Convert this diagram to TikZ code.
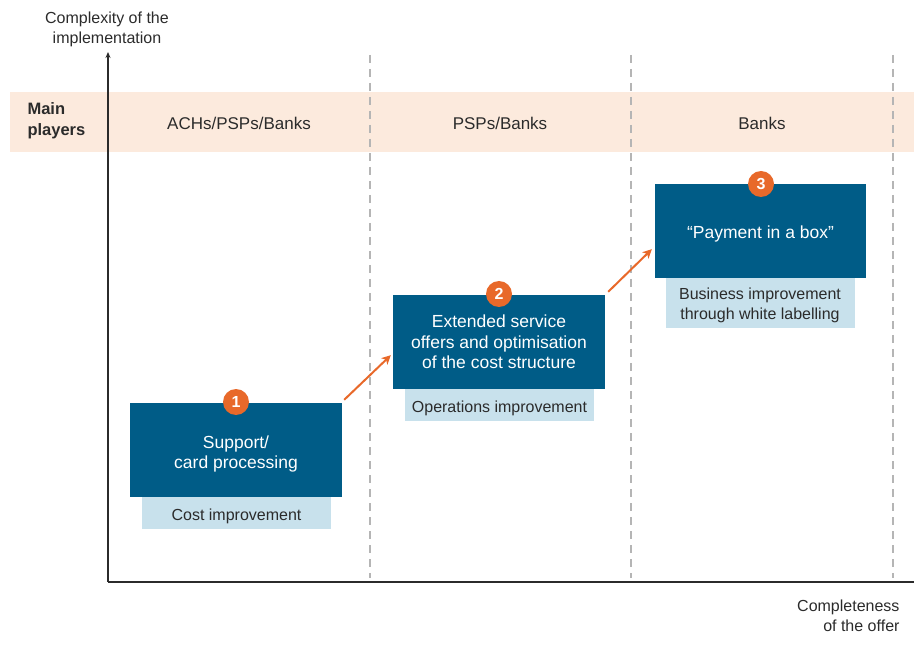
\documentclass[tikz,border=0pt]{standalone}
\usepackage{fontspec}
\setmainfont{Liberation Sans}
\usetikzlibrary{arrows.meta}
\definecolor{dblue}{HTML}{005C87}
\definecolor{lblue}{HTML}{C8E1EC}
\definecolor{peach}{HTML}{FCEADD}
\definecolor{orng}{HTML}{E8692A}
\definecolor{dgray}{HTML}{B5B5B5}
\definecolor{txt}{HTML}{2B2B2B}
\begin{document}
\begin{tikzpicture}[x=1pt,y=-1pt,
  mainbox/.style={fill=dblue,draw=none,minimum width=212pt,minimum height=94pt,inner sep=0pt},
  maintext/.style={text=white,align=center,font=\fontsize{17.5}{20.5}\selectfont,inner sep=0pt},
  subbox/.style={fill=lblue,draw=none,minimum width=189pt,inner sep=0pt},
  subtext/.style={text=txt,align=center,font=\fontsize{16}{20}\selectfont,inner sep=0pt},
  numc/.style={circle,fill=orng,text=white,minimum size=26pt,inner sep=0pt,font=\fontsize{16}{16}\selectfont\bfseries},
  head/.style={text=txt,font=\fontsize{17}{20}\selectfont,anchor=center},
  axlab/.style={text=txt,font=\fontsize{16}{20}\selectfont,align=center},
  step arrow/.style={draw=orng,line width=2pt,-{Stealth[length=9pt,width=9pt,inset=2.5pt]}},
  divider/.style={draw=dgray,line width=1.2pt,dash pattern=on 8pt off 6pt}
]
\useasboundingbox (0,0) rectangle (914,647);
% header band
\fill[peach] (10,92) rectangle (914,152);
\node[text=txt,font=\fontsize{16.5}{21}\selectfont\bfseries,align=left,anchor=west] (mp) at (24,121) {Main\\players};
\node[head] (h1) at (239,123) {ACHs/PSPs/Banks};
\node[head] (h2) at (500,123) {PSPs/Banks};
\node[head] (h3) at (762,123) {Banks};
% dividers
\draw[divider] (370,55) -- (370,578);
\draw[divider] (631,55) -- (631,578);
\draw[divider] (893,55) -- (893,578);
% axes
\coordinate (o) at (108,582);
\coordinate (ytop) at (108,52);
\coordinate (xend) at (914,582);
\draw[txt,line width=1.3pt,-{Stealth[length=6pt,width=5pt]}] (o) -- (ytop);
\draw[txt,line width=1.3pt] (o) -- (xend);
\node[axlab] (ylab) at (107,29.5) {Complexity of the\\implementation};
\node[axlab,align=right,anchor=east] (xlab) at (903,616) {Completeness\\of the offer};
% box 1
\node[mainbox] (b1) at (236,450) {};
\node[maintext] (t1) at (236,454) {Support/\\card processing};
\node[subbox,minimum height=32pt,anchor=north] (s1) at (236.5,497) {};
\node[subtext] (u1) at (236.5,516.5) {Cost improvement};
\node[numc] (c1) at (236,402) {1};
% box 2
\node[mainbox] (b2) at (499,342) {};
\node[maintext] (t2) at (499,342) {Extended service\\offers and optimisation\\of the cost structure};
\node[subbox,minimum height=32pt,anchor=north] (s2) at (499.5,389) {};
\node[subtext] (u2) at (499.5,408.5) {Operations improvement};
\node[numc] (c2) at (499,294) {2};
% box 3
\node[mainbox,minimum width=211pt] (b3) at (760.5,231) {};
\node[maintext] (t3) at (760.5,234) {“Payment in a box”};
\node[subbox,minimum height=50pt,anchor=north] (s3) at (760,278) {};
\node[subtext,font=\fontsize{16}{20}\selectfont] (u3) at (760,305.5) {Business improvement\\through white labelling};
\node[numc] (c3) at (761,184) {3};
% arrows
\draw[step arrow] ([xshift=2pt,yshift=3pt]b1.north east) -- ([xshift=-2pt,yshift=34pt]b2.south west);
\draw[step arrow] ([xshift=3pt,yshift=3pt]b2.north east) -- ([xshift=-3pt,yshift=29pt]b3.south west);
\end{tikzpicture}
\end{document}
